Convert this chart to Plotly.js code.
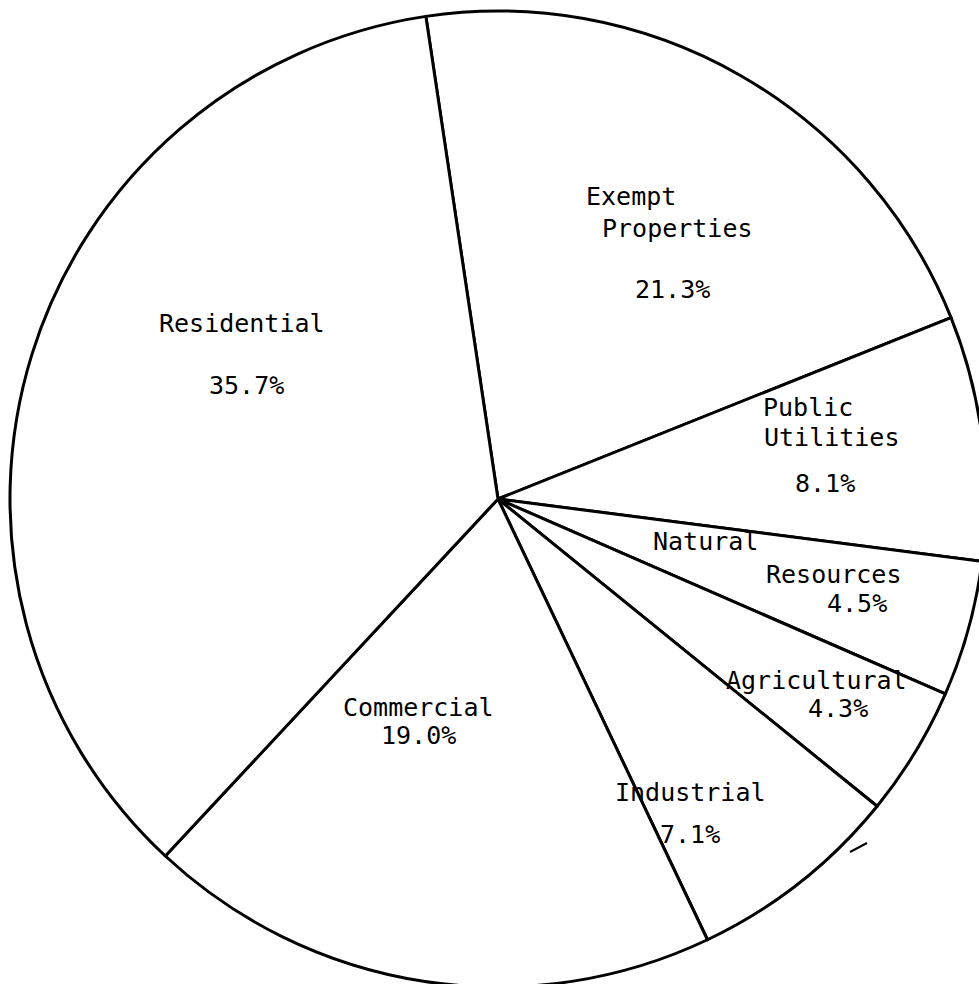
<!DOCTYPE html>
<html>
<head>
<meta charset="utf-8">
<script src="https://cdn.plot.ly/plotly-3.0.1.min.js"></script>
<style>
html,body{margin:0;padding:0;background:#fff;overflow:hidden;width:979px;height:984px;}
#chart{width:996px;height:998px;}
</style>
</head>
<body>
<div id="chart"></div>
<script>
// ---- data ----
var categories = ["Exempt Properties", "Public Utilities", "Natural Resources", "Agricultural", "Industrial", "Commercial", "Residential"];
var nameLines = [["Exempt", "Properties"], ["Public", "Utilities"], ["Natural", "Resources"], ["Agricultural"], ["Industrial"], ["Commercial"], ["Residential"]];
var shares = [21.3, 8.1, 4.5, 4.3, 7.1, 19.0, 35.7];

// ---- label placement (pixel centres in the 979x984 picture) ----
var W = 996, H = 998, ML = 10, MR = 10, MT = 11, MB = 11;
var labelPos = [
  {lines: [[631, 197], [677, 228]], pct: [672, 289]},
  {lines: [[808, 407], [831, 437]], pct: [825, 483]},
  {lines: [[705, 541], [833, 574]], pct: [857, 603]},
  {lines: [[816, 680]], pct: [838, 708]},
  {lines: [[690, 792]], pct: [690, 834]},
  {lines: [[418, 707]], pct: [418, 735]},
  {lines: [[242, 323]], pct: [246, 385]}
];

var pw = W - ML - MR, ph = H - MT - MB;
function px2paper(p) { return {x: (p[0] - ML) / pw, y: 1 - (p[1] - MT) / ph}; }

var font = {family: "DejaVu Sans Mono, monospace", size: 25, color: "#000"};
var annotations = [];
categories.forEach(function (c, i) {
  nameLines[i].forEach(function (t, j) {
    var q = px2paper(labelPos[i].lines[j]);
    annotations.push({text: t, x: q.x, y: q.y, xref: "paper", yref: "paper", showarrow: false, xanchor: "center", yanchor: "middle", font: font});
  });
  var q = px2paper(labelPos[i].pct);
  annotations.push({text: shares[i].toFixed(1) + "%", x: q.x, y: q.y, xref: "paper", yref: "paper", showarrow: false, xanchor: "center", yanchor: "middle", font: font});
});

// small stray pen mark visible in the original scan
var a = px2paper([850, 852]), b = px2paper([867, 843]);
var shapes = [{type: "line", xref: "paper", yref: "paper", x0: a.x, y0: a.y, x1: b.x, y1: b.y, line: {color: "#000", width: 2}}];

var trace = {
  type: "pie",
  labels: categories,
  values: shares,
  sort: false,
  direction: "clockwise",
  rotation: -8.5,
  textinfo: "none",
  hoverinfo: "label+percent",
  marker: {colors: categories.map(function () { return "#ffffff"; }), line: {color: "#000000", width: 3}},
  domain: {x: [0, 1], y: [0, 1]}
};

var layout = {
  width: W, height: H,
  margin: {l: ML, r: MR, t: MT, b: MB, pad: 0},
  showlegend: false,
  paper_bgcolor: "#ffffff",
  plot_bgcolor: "#ffffff",
  annotations: annotations,
  shapes: shapes
};

Plotly.newPlot("chart", [trace], layout, {displayModeBar: false, staticPlot: true});
</script>
</body>
</html>
